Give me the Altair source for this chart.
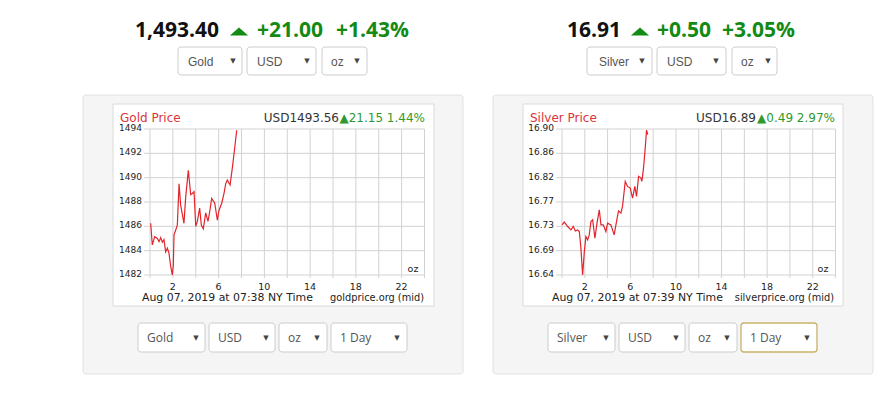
import altair as alt

# ---------------- data ----------------
gold_hours = [0.06, 0.2, 0.41, 0.64, 0.79, 0.93, 1.08, 1.22, 1.37, 1.52, 1.66, 1.81, 1.95, 2.04,
              2.1, 2.25, 2.39, 2.54, 2.68, 2.97, 3.12, 3.35, 3.56, 3.7, 3.85, 4.0, 4.14, 4.34,
              4.49, 4.66, 4.87, 5.07, 5.22, 5.39, 5.66, 5.89, 6.03, 6.27, 6.47, 6.62, 6.76,
              7.0, 7.2, 7.4, 7.58]
gold_price = [1486.25, 1484.47, 1485.15, 1485.0, 1484.74, 1485.07, 1484.7, 1484.9, 1483.9, 1484.2,
              1483.8, 1482.7, 1482.0, 1482.8, 1485.3, 1485.7, 1486.1, 1489.5, 1487.75, 1486.25,
              1488.4, 1490.6, 1488.6, 1488.7, 1488.85, 1486.0, 1486.4, 1487.5, 1486.1, 1485.8,
              1487.1, 1486.4, 1487.2, 1488.3, 1487.9, 1486.5, 1487.3, 1487.9, 1488.7, 1489.5,
              1489.8, 1489.4, 1490.8, 1492.4, 1493.9]

silver_hours = [0.0, 0.2, 0.5, 0.79, 0.99, 1.17, 1.37, 1.52, 1.66, 1.81, 1.96, 2.1, 2.25, 2.39,
                2.54, 2.69, 2.89, 3.07, 3.27, 3.42, 3.62, 3.85, 4.0, 4.29, 4.58, 4.73, 4.96,
                5.17, 5.31, 5.55, 5.75, 5.99, 6.19, 6.39, 6.54, 6.72, 6.92, 7.01, 7.15, 7.3,
                7.42, 7.53]
silver_price = [16.732, 16.737, 16.729, 16.723, 16.729, 16.721, 16.723, 16.720, 16.690, 16.642,
                16.684, 16.711, 16.705, 16.714, 16.738, 16.741, 16.708, 16.735, 16.759, 16.732,
                16.732, 16.720, 16.735, 16.732, 16.714, 16.732, 16.757, 16.753, 16.765, 16.810,
                16.801, 16.798, 16.780, 16.801, 16.783, 16.819, 16.816, 16.810, 16.833, 16.869,
                16.902, 16.894]

grid_hours = [0, 2, 4, 6, 8, 10, 12, 14, 16, 18, 20, 22, 24]
label_hours = [2, 6, 10, 14, 18, 22]
gold_levels = [1482, 1484, 1486, 1488, 1490, 1492, 1494]
silver_domain = [16.642, 16.904]
silver_levels = [16.642, 16.6857, 16.7293, 16.773, 16.8167, 16.8603, 16.904]

M = 8  # page margin
one = alt.Data(values=[{"k": 0}])
CH = "DejaVu Sans"
UI = "Open Sans"
AR = "Liberation Sans"
GRID = "#d2d2d2"


def T(s, x, y, size, color, font, align="left", weight="normal"):
    return alt.Chart(one).mark_text(text=s, fontSize=size, color=color, font=font, align=align,
                                    baseline="middle", fontWeight=weight).encode(
        x=alt.value(x - M), y=alt.value(y - M))


def R(x1, y1, x2, y2, fill, stroke, sw=1, r=0):
    return alt.Chart(one).mark_rect(fill=fill, stroke=stroke, strokeWidth=sw, cornerRadius=r).encode(
        x=alt.value(x1 - M), x2=alt.value(x2 - M), y=alt.value(y1 - M), y2=alt.value(y2 - M))


def dd(label, x1, x2, y1, y2, tx, ax, font, stroke="#cccccc", sw=1):
    cy = (y1 + y2) / 2
    return [R(x1, y1, x2, y2, "white", stroke, sw, 3),
            T(label, tx, cy + 0.5, 12, "#555555", font),
            T("▼", ax, cy, 7, "#444444", CH, align="center")]


def panel(hours, prices, xr, yscale_domain, levels, fmt, key):
    xs = alt.Scale(domain=[0, 24], range=[xr[0] - M, xr[1] - M], nice=False, zero=False)
    ys = alt.Scale(domain=yscale_domain, range=[275 - M, 129 - M], nice=False, zero=False)
    hx, vy = "h_" + key, "v_" + key
    line_data = alt.Data(values=[{hx: h, vy: p} for h, p in zip(hours, prices)])
    vg = alt.Data(values=[{hx: h} for h in grid_hours])
    lg = alt.Data(values=[{hx: h} for h in label_hours])
    hg = alt.Data(values=[{vy: v} for v in levels])
    vgrid = alt.Chart(vg).mark_rule(color=GRID, strokeWidth=1, yOffset=3).encode(
        x=alt.X(hx + ":Q", scale=xs, axis=None),
        y=alt.Y(datum=yscale_domain[0], scale=ys, axis=None),
        y2=alt.Y2(datum=yscale_domain[1]))
    hgrid = alt.Chart(hg).mark_rule(color=GRID, strokeWidth=1, xOffset=-6).encode(
        y=alt.Y(vy + ":Q", scale=ys, axis=None),
        x=alt.X(datum=0, scale=xs, axis=None),
        x2=alt.X2(datum=24))
    ylab = alt.Chart(hg).mark_text(font=CH, fontSize=9, color="#222222", align="right",
                                   baseline="middle", dx=-8, dy=-1).encode(
        y=alt.Y(vy + ":Q", scale=ys, axis=None),
        x=alt.X(datum=0, scale=xs, axis=None),
        text=alt.Text(vy + ":Q", format=fmt))
    xlab = alt.Chart(lg).mark_text(font=CH, fontSize=9.5, color="#222222", align="center",
                                   baseline="middle", dy=12).encode(
        x=alt.X(hx + ":Q", scale=xs, axis=None),
        y=alt.Y(datum=yscale_domain[0], scale=ys, axis=None),
        text=alt.Text(hx + ":Q"))
    line = alt.Chart(line_data).mark_line(color="#e3242b", strokeWidth=1.2, clip=True).encode(
        x=alt.X(hx + ":Q", scale=xs, axis=None),
        y=alt.Y(vy + ":Q", scale=ys, axis=None))
    return alt.layer(vgrid, hgrid, ylab, xlab, line)


gold = panel(gold_hours, gold_price, (150, 424.5), [1482, 1494], gold_levels, "d", "g")
silver = panel(silver_hours, silver_price, (562, 835.5), silver_domain, silver_levels, ".2f", "s")

deco = []
# panel boxes
deco += [R(83, 95, 463, 374, "#f5f5f5", "#e2e2e2", 1, 3), R(113, 104, 434, 306, "white", "#dadada"),
         R(493, 95, 873, 374, "#f5f5f5", "#e2e2e2", 1, 3), R(523, 104, 843, 306, "white", "#dadada")]
# headers
HW = "bold"
deco += [T("1,493.40", 135, 31, 21, "#111111", UI, weight=HW),
         T("+21.00", 257, 31, 21, "#138a13", UI, weight=HW),
         T("+1.43%", 336, 31, 21, "#138a13", UI, weight=HW),
         T("16.91", 567, 31, 21, "#111111", UI, weight=HW),
         T("+0.50", 657, 31, 21, "#138a13", UI, weight=HW),
         T("+3.05%", 722, 31, 21, "#138a13", UI, weight=HW)]
tri = alt.Data(values=[{"k": 0}])
for cx in (239, 640):
    deco.append(alt.Chart(tri).mark_point(shape="M -1 0.45 L 1 0.45 L 0 -0.45 Z", filled=True,
                                          size=330, color="#138a13", opacity=1).encode(
        x=alt.value(cx - M), y=alt.value(31.5 - M)))
# top dropdowns
deco += dd("Gold", 178, 242, 47, 75, 188, 233, AR)
deco += dd("USD", 247, 316, 47, 75, 257, 307, AR)
deco += dd("oz", 322, 367, 47, 75, 331, 357, AR)
deco += dd("Silver", 587, 652, 47, 75, 599, 642, AR)
deco += dd("USD", 657, 726, 47, 75, 667, 716, AR)
deco += dd("oz", 732, 777, 47, 75, 741, 768, AR)
# bottom dropdowns
deco += dd("Gold", 138, 205, 323, 352, 147, 196, UI)
deco += dd("USD", 209, 275, 323, 352, 218, 266, UI)
deco += dd("oz", 279, 327, 323, 352, 288, 317, UI)
deco += dd("1 Day", 331, 407, 323, 352, 340, 397, UI)
deco += dd("Silver", 548, 615, 323, 352, 557, 606, UI)
deco += dd("USD", 619, 685, 323, 352, 628, 676, UI)
deco += dd("oz", 689, 737, 323, 352, 698, 727, UI)
deco += dd("1 Day", 741, 817, 323, 352, 750, 807, UI, stroke="#c9b26b", sw=1.3)
# chart titles and footers
deco += [T("Gold Price", 120, 117.5, 12, "#d9343a", CH),
         T("USD1493.56", 339, 117.5, 12, "#333333", CH, align="right"),
         T("▲21.15 1.44%", 425, 117.5, 12, "#2e9a2e", CH, align="right"),
         T("oz", 413, 268.5, 9.5, "#222222", CH, align="center"),
         T("Aug 07, 2019 at 07:38 NY Time", 142, 297.5, 10.9, "#222222", CH),
         T("goldprice.org (mid)", 424, 297.5, 9.8, "#222222", CH, align="right"),
         T("Silver Price", 530, 117.5, 12, "#d9343a", CH),
         T("USD16.89", 756, 117.5, 12, "#333333", CH, align="right"),
         T("▲0.49 2.97%", 835, 117.5, 12, "#2e9a2e", CH, align="right"),
         T("oz", 823, 268.5, 9.5, "#222222", CH, align="center"),
         T("Aug 07, 2019 at 07:39 NY Time", 552, 297.5, 10.9, "#222222", CH),
         T("silverprice.org (mid)", 834, 297.5, 9.8, "#222222", CH, align="right")]

chart = alt.layer(*deco, gold, silver).resolve_scale(x="independent", y="independent").properties(
    width=871, height=377, autosize=alt.AutoSizeParams(type="none"), padding=0,
    background="white").configure_view(strokeWidth=0)

chart.save("out.html", embed_options={"renderer": "svg", "actions": False})
